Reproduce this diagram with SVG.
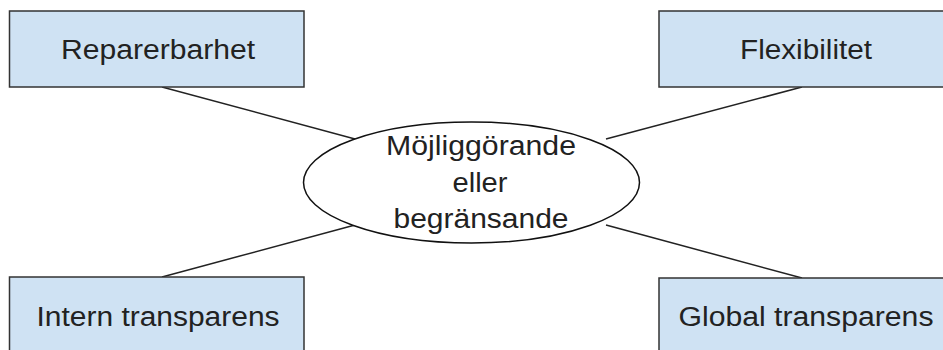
<svg xmlns="http://www.w3.org/2000/svg" width="943" height="350" viewBox="0 0 943 350">
<style>
.box{fill:#cfe2f3;stroke:#333;stroke-width:1.5}
.lbl{font-family:"Liberation Sans",Arial,sans-serif;font-size:27px;fill:#222;text-anchor:middle}
.conn{stroke:#222;stroke-width:1.5;fill:none}
</style>
<rect width="943" height="350" fill="#fff"/>
<g id="connectors">
<line class="conn" x1="162" y1="87" x2="355" y2="139"/>
<line class="conn" x1="802" y1="87" x2="606" y2="139"/>
<line class="conn" x1="162" y1="277" x2="355" y2="225"/>
<line class="conn" x1="802" y1="278" x2="606" y2="225"/>
</g>
<g id="center">
<ellipse cx="471.5" cy="182.5" rx="168" ry="60.5" fill="#fff" stroke="#111" stroke-width="1.5"/>
<text class="lbl" x="481" y="155" textLength="190" lengthAdjust="spacingAndGlyphs">Möjliggörande</text>
<text class="lbl" x="480" y="192" textLength="55" lengthAdjust="spacingAndGlyphs">eller</text>
<text class="lbl" x="481" y="228" textLength="175" lengthAdjust="spacingAndGlyphs">begränsande</text>
</g>
<g id="reparerbarhet">
<rect class="box" x="9.5" y="11" width="294.5" height="76"/>
<text class="lbl" x="158" y="59" textLength="194" lengthAdjust="spacingAndGlyphs">Reparerbarhet</text>
</g>
<g id="flexibilitet">
<rect class="box" x="659" y="11" width="294" height="76"/>
<text class="lbl" x="806" y="59" textLength="132" lengthAdjust="spacingAndGlyphs">Flexibilitet</text>
</g>
<g id="intern">
<rect class="box" x="9.5" y="277" width="294.5" height="80"/>
<text class="lbl" x="158" y="326" textLength="243" lengthAdjust="spacingAndGlyphs">Intern transparens</text>
</g>
<g id="global">
<rect class="box" x="659" y="278" width="294" height="80"/>
<text class="lbl" x="806" y="326" textLength="255" lengthAdjust="spacingAndGlyphs">Global transparens</text>
</g>
</svg>
